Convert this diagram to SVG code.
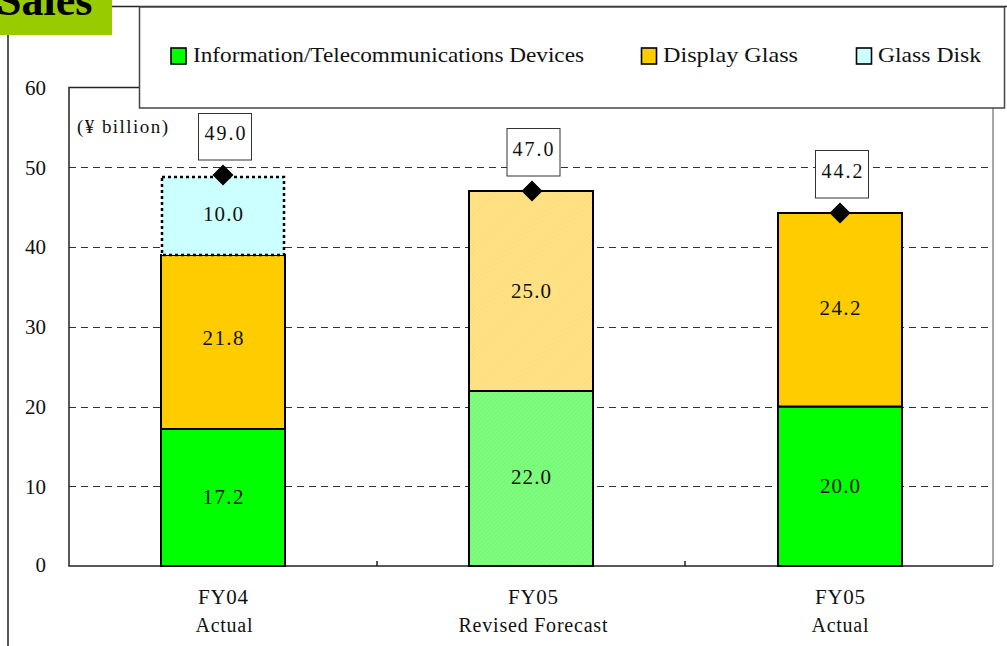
<svg xmlns="http://www.w3.org/2000/svg" width="1007" height="646" viewBox="0 0 1007 646">
<defs>
<style>
text{font-family:"Liberation Serif","Times New Roman",serif;fill:#111}
.tick{font-size:21px;text-anchor:end}
.lbl{font-size:21px;text-anchor:middle}
.leg{font-size:22px}
.grid{stroke:#333;stroke-width:1;stroke-dasharray:7,5}
.bar{stroke:#000;stroke-width:2}
.box{fill:#fff;stroke:#333;stroke-width:1}
.sw{stroke:#000;stroke-width:1.6}
</style>
<pattern id="hg" width="3" height="3" patternUnits="userSpaceOnUse" patternTransform="rotate(45)">
<rect width="3" height="3" fill="#7efc7e"/>
<line x1="0" y1="0" x2="0" y2="3" stroke="#6aee6a" stroke-width="0.8"/>
</pattern>
<pattern id="hy" width="3" height="3" patternUnits="userSpaceOnUse" patternTransform="rotate(45)">
<rect width="3" height="3" fill="#ffe285"/>
<line x1="0" y1="0" x2="0" y2="3" stroke="#f5d66e" stroke-width="0.8"/>
</pattern>
</defs>
<rect width="1007" height="646" fill="#fff"/>
<g id="frame">
<line x1="8" y1="35" x2="8" y2="646" stroke="#222" stroke-width="1.5"/>
<line x1="112" y1="6.5" x2="1007" y2="6.5" stroke="#222" stroke-width="1.5"/>
</g>
<g id="title">
<rect x="0" y="0" width="112" height="35" fill="#99cc00"/>
<text x="-3" y="15" style="font-size:44px;font-weight:bold;fill:#000">Sales</text>
</g>
<g id="plot">
<line class="grid" x1="69" y1="167.5" x2="993" y2="167.5"/>
<line class="grid" x1="69" y1="247.5" x2="993" y2="247.5"/>
<line class="grid" x1="69" y1="327.5" x2="993" y2="327.5"/>
<line class="grid" x1="69" y1="407.5" x2="993" y2="407.5"/>
<line class="grid" x1="69" y1="486.5" x2="993" y2="486.5"/>
<line x1="993" y1="87.5" x2="993" y2="566" stroke="#888" stroke-width="1.5"/>
<polyline points="993,87.5 69,87.5 69,566 993,566" fill="none" stroke="#222" stroke-width="1.5"/>
<line x1="377" y1="561" x2="377" y2="566" stroke="#222" stroke-width="1.5"/>
<line x1="685" y1="561" x2="685" y2="566" stroke="#222" stroke-width="1.5"/>
<text class="tick" x="46" y="95">60</text>
<text class="tick" x="46" y="175">50</text>
<text class="tick" x="46" y="254">40</text>
<text class="tick" x="46" y="334">30</text>
<text class="tick" x="46" y="414">20</text>
<text class="tick" x="46" y="494">10</text>
<text class="tick" x="46" y="572">0</text>
<text x="77" y="133" style="font-size:19px" textLength="91" lengthAdjust="spacing">(¥ billion)</text>
</g>
<g id="bar-fy04">
<rect class="bar" x="161" y="429" width="124" height="137" fill="#00ff00"/>
<rect class="bar" x="161" y="255" width="124" height="174" fill="#ffcc00"/>
<rect x="162" y="177" width="122" height="78" fill="#ccffff" stroke="#000" stroke-width="2.5" stroke-dasharray="3,3"/>
<text class="lbl" x="223" y="504" textLength="41" lengthAdjust="spacing">17.2</text>
<text class="lbl" x="223" y="345" textLength="41" lengthAdjust="spacing">21.8</text>
<text class="lbl" x="223" y="221" textLength="40" lengthAdjust="spacing">10.0</text>
<path d="M223,164.5 L233.5,175 L223,185.5 L212.5,175 Z" fill="#000"/>
<rect class="box" x="198.5" y="113.5" width="53" height="46.5"/>
<text class="lbl" x="225" y="140" style="font-size:20px" textLength="41" lengthAdjust="spacing">49.0</text>
<text class="lbl" x="223" y="604" textLength="50" lengthAdjust="spacing">FY04</text>
<text class="lbl" x="224" y="632" style="font-size:20px" textLength="57" lengthAdjust="spacing">Actual</text>
</g>
<g id="bar-fy05-forecast">
<rect class="bar" x="469" y="391" width="124" height="175" fill="url(#hg)"/>
<rect class="bar" x="469" y="191" width="124" height="200" fill="url(#hy)"/>
<text class="lbl" x="531" y="484" textLength="40" lengthAdjust="spacing">22.0</text>
<text class="lbl" x="531" y="298" textLength="40" lengthAdjust="spacing">25.0</text>
<path d="M532,180.5 L542.5,191 L532,201.5 L521.5,191 Z" fill="#000"/>
<rect class="box" x="507" y="128.5" width="53" height="47.5"/>
<text class="lbl" x="533" y="156" style="font-size:20px" textLength="41" lengthAdjust="spacing">47.0</text>
<text class="lbl" x="533" y="604" textLength="50" lengthAdjust="spacing">FY05</text>
<text class="lbl" x="533" y="632" style="font-size:20px" textLength="149" lengthAdjust="spacing">Revised Forecast</text>
</g>
<g id="bar-fy05-actual">
<rect class="bar" x="778" y="406.5" width="124" height="159.5" fill="#00ff00"/>
<rect class="bar" x="778" y="213" width="124" height="193.5" fill="#ffcc00"/>
<text class="lbl" x="840" y="493" textLength="40" lengthAdjust="spacing">20.0</text>
<text class="lbl" x="840" y="315" textLength="41" lengthAdjust="spacing">24.2</text>
<path d="M840,202.5 L850.5,213 L840,223.5 L829.5,213 Z" fill="#000"/>
<rect class="box" x="815.5" y="150.5" width="53" height="47.5"/>
<text class="lbl" x="842" y="178" style="font-size:20px" textLength="41" lengthAdjust="spacing">44.2</text>
<text class="lbl" x="840" y="604" textLength="50" lengthAdjust="spacing">FY05</text>
<text class="lbl" x="840" y="632" style="font-size:20px" textLength="57" lengthAdjust="spacing">Actual</text>
</g>
<g id="legend">
<rect x="139.5" y="7" width="865" height="101" fill="#fff" stroke="#444" stroke-width="1.5"/>
<rect class="sw" x="171" y="48" width="15" height="16" fill="#00ff00"/>
<text class="leg" x="193" y="62" textLength="391" lengthAdjust="spacingAndGlyphs">Information/Telecommunications Devices</text>
<rect class="sw" x="641.5" y="48" width="15" height="16" fill="#ffcc00"/>
<text class="leg" x="663" y="62" textLength="135" lengthAdjust="spacingAndGlyphs">Display Glass</text>
<rect class="sw" x="856.5" y="48" width="15" height="16" fill="#ccffff"/>
<text class="leg" x="878" y="62" textLength="103" lengthAdjust="spacingAndGlyphs">Glass Disk</text>
</g>
</svg>
